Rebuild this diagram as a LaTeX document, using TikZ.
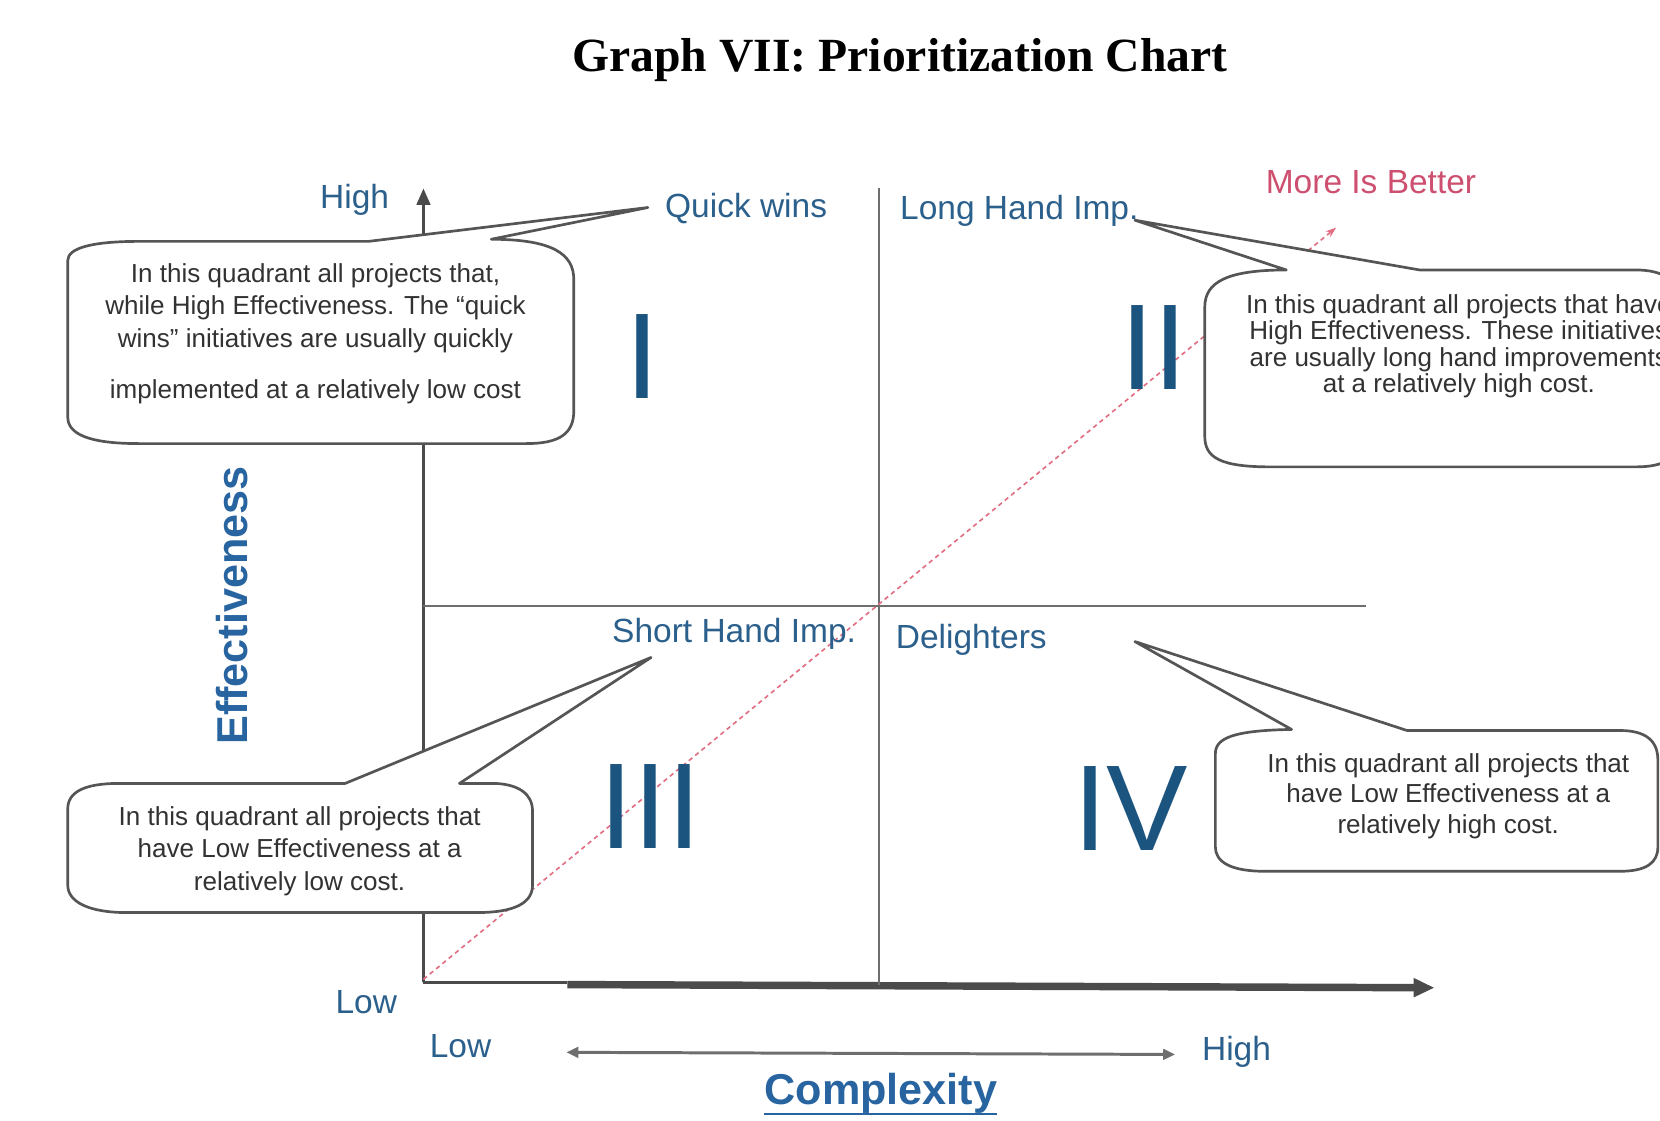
\documentclass[tikz,border=0pt]{standalone}
\usepackage{fontspec}
\setmainfont{Liberation Serif}
\newfontfamily\arialfont{Liberation Sans}
\usetikzlibrary{arrows.meta,calc}

\definecolor{labelblue}{RGB}{44,96,140}
\definecolor{numblue}{RGB}{28,84,128}
\definecolor{titleblue}{RGB}{40,100,160}
\definecolor{morepink}{RGB}{206,80,112}
\definecolor{callgray}{RGB}{85,85,85}
\definecolor{textgray}{RGB}{50,50,50}
\definecolor{axisgray}{RGB}{75,75,75}
\definecolor{gridgray}{RGB}{110,110,110}
\definecolor{dotred}{RGB}{225,110,130}

\tikzset{
  callout/.style={draw=callgray, line width=1.8pt, fill=white, line join=round},
  qlabel/.style={font=\arialfont\fontsize{22.5}{27}\selectfont, text=labelblue, inner sep=0pt},
  numeral/.style={font=\arialfont\fontsize{82}{90}\selectfont, text=numblue, inner sep=0pt},
  calltext/.style={font=\arialfont\fontsize{17.5}{22}\selectfont, text=textgray, align=center, inner sep=0pt},
  axistitle/.style={font=\arialfont\bfseries\fontsize{29}{34}\selectfont, text=titleblue, inner sep=0pt},
  axisline/.style={draw=axisgray, line width=2.1pt},
  gridline/.style={draw=gridgray, line width=1.4pt},
  diagonal/.style={draw=dotred, line width=1.1pt, dash pattern=on 3pt off 2.5pt},
  rangearrow/.style={draw=gridgray, line width=2pt,
    {Triangle[length=8pt,width=7pt]}-{Triangle[length=8pt,width=7pt]}}
}

\begin{document}
\begin{tikzpicture}[x=0.25mm, y=-0.25mm]
  \clip (0,0) rectangle (1568,1058);
  \fill[white] (0,0) rectangle (1568,1058);

  % reference points of the chart
  \coordinate (O) at (400,928);
  \coordinate (ytip) at (400,178);
  \coordinate (xbreak) at (536,928);
  \coordinate (xstart) at (536,930);
  \coordinate (xtip) at (1355,933);
  \coordinate (vtop) at (830,178);
  \coordinate (vbot) at (830,930);
  \coordinate (hleft) at (400,572);
  \coordinate (hright) at (1290,572);
  \coordinate (rstart) at (400,925);
  \coordinate (rtip) at (1262,215);
  \coordinate (cl) at (535,994);
  \coordinate (cr) at (1110,996);

  % axes
  \draw[axisline, -{Triangle[length=11pt,width=9pt]}] (O) -- (ytip);
  \draw[axisline] (O) -- (xbreak);
  \draw[axisline, line width=5pt, -{Triangle[length=14pt,width=12pt]}] (xstart) -- (xtip);

  % quadrant dividers
  \draw[gridline] (vtop) -- (vbot);
  \draw[gridline] (hleft) -- (hright);

  % "more is better" diagonal
  \draw[diagonal, -{Stealth[length=7pt,width=5pt]}] (rstart) -- (rtip);

  % complexity range arrow
  \draw[rangearrow] (cl) -- (cr);

  % title
  \node[font=\bfseries\fontsize{32}{36}\selectfont, anchor=base, inner sep=0pt] (title) at (850,68) {Graph VII: Prioritization Chart};

  % callout balloons
  \draw[callout] (348,228) -- (612,196) -- (464,226)
    .. controls (522,226) and (542,240) .. (542,264)
    -- (542,388)
    .. controls (542,410) and (528,419) .. (497,419)
    -- (131,419)
    .. controls (84,419) and (64,410) .. (64,394)
    -- (64,246)
    .. controls (64,234) and (88,228) .. (131,228)
    -- cycle;

  \draw[callout] (1072,208) -- (1341,255) -- (1545,255)
    .. controls (1572,255) and (1585,265) .. (1585,285)
    -- (1585,415)
    .. controls (1585,433) and (1572,441) .. (1545,441)
    -- (1200,441)
    .. controls (1152,441) and (1138,432) .. (1138,412)
    -- (1138,290)
    .. controls (1138,266) and (1160,255) .. (1215,255)
    -- cycle;

  \draw[callout] (434,740) -- (615,621) -- (326,740) -- (112,740)
    .. controls (80,740) and (64,748) .. (64,764)
    -- (64,836)
    .. controls (64,852) and (84,862) .. (120,862)
    -- (450,862)
    .. controls (488,862) and (503,852) .. (503,836)
    -- (503,766)
    .. controls (503,750) and (490,741) .. (468,740)
    -- cycle;

  \draw[callout] (1072,606) -- (1329,690) -- (1530,690)
    .. controls (1555,690) and (1566,700) .. (1566,718)
    -- (1566,800)
    .. controls (1566,815) and (1555,823) .. (1530,823)
    -- (1195,823)
    .. controls (1162,823) and (1148,814) .. (1148,800)
    -- (1148,712)
    .. controls (1148,697) and (1165,690) .. (1220,689)
    -- cycle;

  % balloon texts
  \node[calltext] (t1) at (298,315) {In this quadrant all projects that,\\while High Effectiveness. The “quick\\wins” initiatives are usually quickly\\[12pt]implemented at a relatively low cost};
  \node[calltext, font=\arialfont\fontsize{17.5}{17.8}\selectfont] (t2) at (1378,327) {In this quadrant all projects that have\\High Effectiveness. These initiatives\\are usually long hand improvements\\at a relatively high cost.};
  \node[calltext, font=\arialfont\fontsize{17.5}{21.7}\selectfont] (t3) at (283,804) {In this quadrant all projects that\\have Low Effectiveness at a\\relatively low cost.};
  \node[calltext, font=\arialfont\fontsize{17.5}{20.6}\selectfont] (t4) at (1368,752) {In this quadrant all projects that\\have Low Effectiveness at a\\relatively high cost.};

  % quadrant names and axis labels
  \node[qlabel, anchor=base] (yhigh) at (335,197) {High};
  \node[qlabel, anchor=base west] (qwins) at (628,205) {Quick wins};
  \node[qlabel, anchor=base west] (longimp) at (850,207) {Long Hand Imp.};
  \node[qlabel, anchor=base west] (shortimp) at (578,607) {Short Hand Imp.};
  \node[qlabel, anchor=base west] (delight) at (846,613) {Delighters};
  \node[qlabel, anchor=base, text=morepink] (better) at (1295,183) {More Is Better};
  \node[qlabel, anchor=base] (ylow) at (346,957) {Low};
  \node[qlabel, anchor=base] (xlow) at (435,999) {Low};
  \node[qlabel, anchor=base] (xhigh) at (1168,1002) {High};

  \node[axistitle, anchor=base] (cx) at (832,1043) {Complexity};
  \draw[titleblue, line width=1.6pt] ($(cx.base west)+(0,9)$) -- ($(cx.base east)+(0,9)$);
  \node[axistitle, rotate=90] (eff) at (219,572) {Effectiveness};

  % quadrant numerals
  \node[numeral] (qI) at (607,337) {I};
  \node[numeral] (qII) at (1090,328) {II};
  \node[numeral] (qIII) at (614,762) {III};
  \node[numeral] (qIV) at (1068,764) {IV};
\end{tikzpicture}
\end{document}
